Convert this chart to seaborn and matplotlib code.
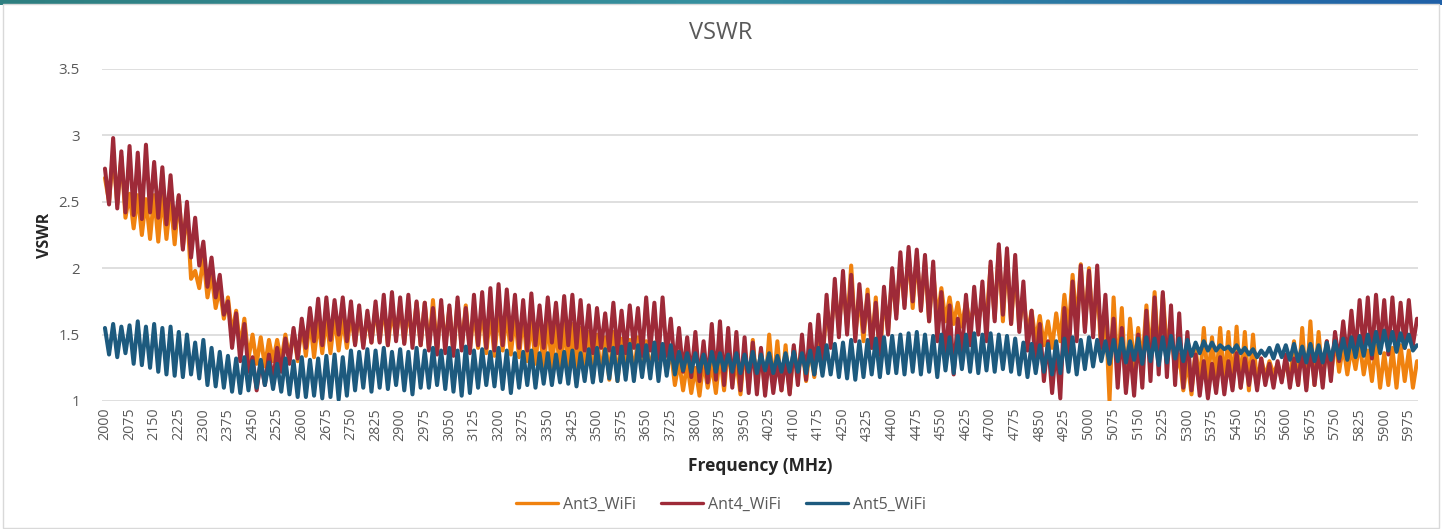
import seaborn as sns
import pandas as pd
import matplotlib.pyplot as plt
import numpy as np
from matplotlib.ticker import FuncFormatter

# frequency grid, 12.5 MHz steps from 2000 to 6000 MHz
freq = np.arange(2000, 6000.1, 12.5)

# one row per 75 MHz tick interval (peak / dip pairs)
ant3 = [
    2.68, 2.50, 2.86, 2.48, 2.84, 2.38,
    2.56, 2.30, 2.55, 2.25, 2.52, 2.22,
    2.55, 2.20, 2.56, 2.22, 2.52, 2.18,
    2.54, 2.16, 2.45, 1.92, 1.98, 1.85,
    2.08, 1.78, 1.95, 1.70, 1.85, 1.62,
    1.78, 1.50, 1.68, 1.40, 1.62, 1.32,
    1.50, 1.28, 1.48, 1.26, 1.46, 1.30,
    1.46, 1.30, 1.50, 1.32, 1.53, 1.30,
    1.58, 1.34, 1.61, 1.33, 1.60, 1.36,
    1.62, 1.36, 1.64, 1.38, 1.62, 1.40,
    1.65, 1.43, 1.66, 1.42, 1.64, 1.44,
    1.70, 1.45, 1.72, 1.42, 1.68, 1.48,
    1.72, 1.44, 1.68, 1.46, 1.74, 1.42,
    1.74, 1.40, 1.76, 1.38, 1.72, 1.42,
    1.70, 1.36, 1.75, 1.40, 1.72, 1.38,
    1.68, 1.40, 1.70, 1.36, 1.66, 1.34,
    1.68, 1.38, 1.66, 1.35, 1.64, 1.33,
    1.65, 1.30, 1.62, 1.28, 1.60, 1.22,
    1.63, 1.25, 1.58, 1.20, 1.60, 1.22,
    1.58, 1.20, 1.55, 1.18, 1.52, 1.16,
    1.50, 1.18, 1.48, 1.16, 1.52, 1.15,
    1.47, 1.22, 1.46, 1.20, 1.48, 1.23,
    1.45, 1.22, 1.44, 1.24, 1.42, 1.22,
    1.38, 1.12, 1.30, 1.08, 1.28, 1.06,
    1.25, 1.04, 1.30, 1.10, 1.28, 1.06,
    1.35, 1.08, 1.42, 1.12, 1.30, 1.05,
    1.40, 1.10, 1.46, 1.12, 1.38, 1.08,
    1.50, 1.12, 1.45, 1.08, 1.42, 1.06,
    1.40, 1.20, 1.42, 1.15, 1.40, 1.18,
    1.50, 1.30, 1.70, 1.48, 1.85, 1.55,
    1.90, 1.55, 2.02, 1.50, 1.80, 1.45,
    1.84, 1.40, 1.78, 1.30, 1.80, 1.52,
    1.95, 1.65, 2.05, 1.72, 2.12, 1.70,
    2.10, 1.68, 2.06, 1.60, 1.98, 1.62,
    1.85, 1.60, 1.78, 1.58, 1.74, 1.56,
    1.75, 1.58, 1.72, 1.60, 1.76, 1.62,
    2.02, 1.62, 2.15, 1.60, 2.10, 1.58,
    2.00, 1.55, 1.80, 1.50, 1.68, 1.45,
    1.64, 1.42, 1.60, 1.40, 1.66, 1.45,
    1.80, 1.52, 1.95, 1.58, 2.03, 1.55,
    2.00, 1.52, 1.90, 1.35, 1.70, 1.00,
    1.78, 1.20, 1.70, 1.10, 1.62, 1.25,
    1.55, 1.28, 1.72, 1.32, 1.82, 1.30,
    1.80, 1.40, 1.60, 1.20, 1.35, 1.08,
    1.30, 1.05, 1.40, 1.12, 1.55, 1.15,
    1.48, 1.15, 1.55, 1.13, 1.52, 1.12,
    1.56, 1.10, 1.52, 1.08, 1.50, 1.12,
    1.32, 1.18, 1.30, 1.20, 1.28, 1.16,
    1.30, 1.15, 1.45, 1.12, 1.55, 1.10,
    1.60, 1.12, 1.52, 1.15, 1.45, 1.18,
    1.48, 1.22, 1.42, 1.20, 1.40, 1.24,
    1.44, 1.20, 1.38, 1.15, 1.42, 1.10,
    1.36, 1.12, 1.40, 1.10, 1.42, 1.15,
    1.38, 1.10, 1.30,
]

ant4 = [
    2.75, 2.48, 2.98, 2.45, 2.88, 2.42,
    2.92, 2.40, 2.87, 2.37, 2.93, 2.42,
    2.80, 2.38, 2.76, 2.33, 2.70, 2.30,
    2.55, 2.14, 2.50, 2.08, 2.38, 2.02,
    2.20, 1.86, 2.08, 1.78, 1.95, 1.65,
    1.75, 1.40, 1.66, 1.30, 1.58, 1.22,
    1.33, 1.08, 1.30, 1.12, 1.35, 1.15,
    1.40, 1.22, 1.47, 1.28, 1.55, 1.32,
    1.62, 1.40, 1.70, 1.45, 1.77, 1.42,
    1.78, 1.46, 1.76, 1.50, 1.78, 1.45,
    1.75, 1.42, 1.72, 1.40, 1.68, 1.44,
    1.75, 1.44, 1.80, 1.42, 1.82, 1.45,
    1.78, 1.43, 1.80, 1.40, 1.75, 1.42,
    1.74, 1.38, 1.70, 1.35, 1.76, 1.36,
    1.72, 1.34, 1.78, 1.38, 1.70, 1.36,
    1.80, 1.42, 1.82, 1.40, 1.85, 1.38,
    1.88, 1.42, 1.84, 1.46, 1.80, 1.40,
    1.76, 1.38, 1.81, 1.42, 1.72, 1.40,
    1.78, 1.44, 1.74, 1.40, 1.79, 1.42,
    1.80, 1.40, 1.76, 1.38, 1.72, 1.36,
    1.70, 1.40, 1.66, 1.38, 1.74, 1.36,
    1.68, 1.36, 1.72, 1.40, 1.70, 1.34,
    1.78, 1.38, 1.74, 1.32, 1.78, 1.34,
    1.62, 1.25, 1.55, 1.22, 1.48, 1.18,
    1.52, 1.15, 1.45, 1.14, 1.58, 1.16,
    1.60, 1.12, 1.55, 1.10, 1.52, 1.08,
    1.48, 1.06, 1.44, 1.05, 1.40, 1.04,
    1.34, 1.06, 1.30, 1.08, 1.33, 1.05,
    1.42, 1.12, 1.50, 1.16, 1.58, 1.20,
    1.65, 1.28, 1.80, 1.40, 1.92, 1.48,
    1.98, 1.50, 1.95, 1.45, 1.88, 1.52,
    1.80, 1.40, 1.74, 1.35, 1.86, 1.50,
    2.00, 1.62, 2.12, 1.70, 2.16, 1.75,
    2.14, 1.68, 2.10, 1.60, 2.05, 1.45,
    1.82, 1.30, 1.72, 1.20, 1.62, 1.35,
    1.80, 1.42, 1.86, 1.50, 1.90, 1.45,
    2.05, 1.60, 2.18, 1.65, 2.15, 1.58,
    2.10, 1.52, 1.90, 1.38, 1.68, 1.25,
    1.58, 1.15, 1.45, 1.06, 1.42, 1.02,
    1.70, 1.30, 1.90, 1.45, 2.02, 1.52,
    1.98, 1.48, 2.02, 1.40, 1.80, 1.28,
    1.62, 1.10, 1.55, 1.06, 1.40, 1.04,
    1.50, 1.10, 1.68, 1.15, 1.78, 1.20,
    1.82, 1.18, 1.72, 1.12, 1.66, 1.10,
    1.52, 1.08, 1.35, 1.04, 1.30, 1.02,
    1.28, 1.06, 1.33, 1.05, 1.30, 1.08,
    1.36, 1.10, 1.32, 1.12, 1.30, 1.08,
    1.32, 1.12, 1.28, 1.10, 1.30, 1.14,
    1.35, 1.10, 1.32, 1.12, 1.40, 1.08,
    1.42, 1.12, 1.38, 1.10, 1.45, 1.15,
    1.52, 1.30, 1.60, 1.32, 1.68, 1.35,
    1.76, 1.38, 1.78, 1.32, 1.80, 1.40,
    1.76, 1.35, 1.78, 1.38, 1.74, 1.40,
    1.76, 1.42, 1.62,
]

ant5 = [
    1.55, 1.35, 1.58, 1.33, 1.56, 1.36,
    1.57, 1.28, 1.60, 1.27, 1.56, 1.25,
    1.58, 1.22, 1.55, 1.20, 1.56, 1.19,
    1.52, 1.18, 1.50, 1.20, 1.44, 1.17,
    1.46, 1.12, 1.40, 1.11, 1.37, 1.10,
    1.34, 1.07, 1.32, 1.06, 1.33, 1.08,
    1.30, 1.10, 1.31, 1.12, 1.29, 1.09,
    1.28, 1.07, 1.32, 1.05, 1.30, 1.03,
    1.33, 1.03, 1.31, 1.04, 1.32, 1.02,
    1.34, 1.03, 1.35, 1.01, 1.33, 1.04,
    1.38, 1.08, 1.37, 1.10, 1.39, 1.07,
    1.38, 1.10, 1.40, 1.09, 1.37, 1.12,
    1.39, 1.08, 1.37, 1.05, 1.40, 1.10,
    1.38, 1.10, 1.40, 1.12, 1.38, 1.09,
    1.40, 1.07, 1.38, 1.04, 1.41, 1.06,
    1.38, 1.10, 1.39, 1.12, 1.37, 1.11,
    1.40, 1.09, 1.38, 1.06, 1.36, 1.10,
    1.37, 1.12, 1.38, 1.10, 1.36, 1.13,
    1.36, 1.12, 1.35, 1.14, 1.37, 1.13,
    1.38, 1.11, 1.36, 1.15, 1.39, 1.14,
    1.40, 1.15, 1.39, 1.17, 1.40, 1.15,
    1.41, 1.16, 1.43, 1.15, 1.42, 1.18,
    1.42, 1.17, 1.44, 1.15, 1.43, 1.19,
    1.42, 1.20, 1.37, 1.23, 1.36, 1.22,
    1.36, 1.22, 1.35, 1.21, 1.37, 1.22,
    1.36, 1.23, 1.35, 1.22, 1.36, 1.21,
    1.35, 1.22, 1.37, 1.21, 1.35, 1.23,
    1.36, 1.21, 1.34, 1.22, 1.36, 1.22,
    1.37, 1.22, 1.36, 1.21, 1.38, 1.20,
    1.40, 1.19, 1.42, 1.20, 1.43, 1.18,
    1.44, 1.17, 1.46, 1.16, 1.45, 1.18,
    1.46, 1.20, 1.47, 1.18, 1.48, 1.21,
    1.49, 1.21, 1.50, 1.20, 1.51, 1.22,
    1.52, 1.20, 1.50, 1.22, 1.49, 1.18,
    1.50, 1.23, 1.48, 1.21, 1.49, 1.24,
    1.50, 1.22, 1.51, 1.21, 1.50, 1.23,
    1.51, 1.22, 1.50, 1.24, 1.49, 1.22,
    1.47, 1.20, 1.44, 1.18, 1.43, 1.21,
    1.42, 1.22, 1.43, 1.20, 1.45, 1.21,
    1.47, 1.22, 1.48, 1.20, 1.46, 1.24,
    1.48, 1.26, 1.46, 1.30, 1.45, 1.28,
    1.46, 1.30, 1.47, 1.29, 1.45, 1.31,
    1.47, 1.28, 1.48, 1.30, 1.47, 1.27,
    1.48, 1.29, 1.49, 1.32, 1.47, 1.30,
    1.46, 1.34, 1.44, 1.36, 1.45, 1.38,
    1.44, 1.38, 1.42, 1.39, 1.41, 1.37,
    1.42, 1.36, 1.40, 1.35, 1.39, 1.33,
    1.38, 1.34, 1.40, 1.32, 1.42, 1.33,
    1.42, 1.31, 1.43, 1.30, 1.41, 1.29,
    1.43, 1.30, 1.42, 1.29, 1.44, 1.31,
    1.45, 1.32, 1.47, 1.31, 1.48, 1.33,
    1.49, 1.34, 1.50, 1.35, 1.52, 1.36,
    1.53, 1.38, 1.52, 1.37, 1.51, 1.40,
    1.50, 1.38, 1.42,
]

series_names = ["Ant3_WiFi", "Ant4_WiFi", "Ant5_WiFi"]
colors = ["#F0820F", "#9E2A38", "#1D5A7E"]
tick_freqs = list(range(2000, 6000, 75))
y_ticks = [1, 1.5, 2, 2.5, 3, 3.5]

df = pd.concat([
    pd.DataFrame({"Frequency": freq, "VSWR": vals, "Series": name})
    for name, vals in zip(series_names, [ant3, ant4, ant5])
])

sns.set_style("white")
plt.rcParams['font.family'] = ['Open Sans', 'DejaVu Sans']

fig = plt.figure(figsize=(14.42, 5.29), dpi=100)
ax = fig.add_axes([102/1442, 128/529, 1316/1442, 332/529])

sns.lineplot(data=df, x="Frequency", y="VSWR", hue="Series",
             palette=dict(zip(series_names, colors)), estimator=None,
             sort=False, linewidth=2.9, ax=ax)

ax.set_xlim(1991, 6003)
ax.set_ylim(1, 3.5)
ax.set_yticks(y_ticks)
ax.yaxis.set_major_formatter(FuncFormatter(lambda v, p: f"{v:g}"))
ax.set_xticks(tick_freqs)
ax.set_xticklabels([str(t) for t in tick_freqs], rotation=90)
ax.tick_params(axis="both", length=0, labelcolor="#595959")
ax.tick_params(axis="x", labelsize=10.3, pad=5)
ax.tick_params(axis="y", labelsize=10.8, pad=16)
ax.grid(axis="y", color="#D9D9D9", linewidth=1.2)
ax.grid(axis="x", visible=False)
ax.set_axisbelow(True)
for s in ax.spines.values():
    s.set_visible(False)

ax.set_xlabel("Frequency (MHz)", fontsize=12.5, fontweight="bold", labelpad=12)
ax.set_ylabel("VSWR", fontsize=11.5, fontweight="bold", labelpad=4)
fig.text(0.5, 1 - 33/529, "VSWR", ha="center", va="center",
         fontsize=17, color="#595959")

handles, labels = ax.get_legend_handles_labels()
ax.get_legend().remove()
for h in handles:
    h.set_linewidth(2.4)
fig.legend(handles, labels, loc="center", bbox_to_anchor=(0.5, 1 - 505/529),
           ncol=3, frameon=False, fontsize=11.5, handlelength=2.6,
           handletextpad=0.3, columnspacing=1.6, labelcolor="#595959")

# chart border and top colour band
fig.patches.append(plt.Rectangle((0.002, 0.002), 0.996, 0.99, transform=fig.transFigure,
                                 fill=False, edgecolor="#D9D9D9", linewidth=1))
band = fig.add_axes([0, 1 - 5/529, 1, 5/529])
band.imshow(np.linspace(0, 1, 256).reshape(1, -1), aspect="auto",
            cmap=plt.matplotlib.colors.LinearSegmentedColormap.from_list(
                "band", ["#2E7F80", "#3690A0", "#1F60A8"]))
band.axis("off")

fig.savefig("out.png", dpi=100)
